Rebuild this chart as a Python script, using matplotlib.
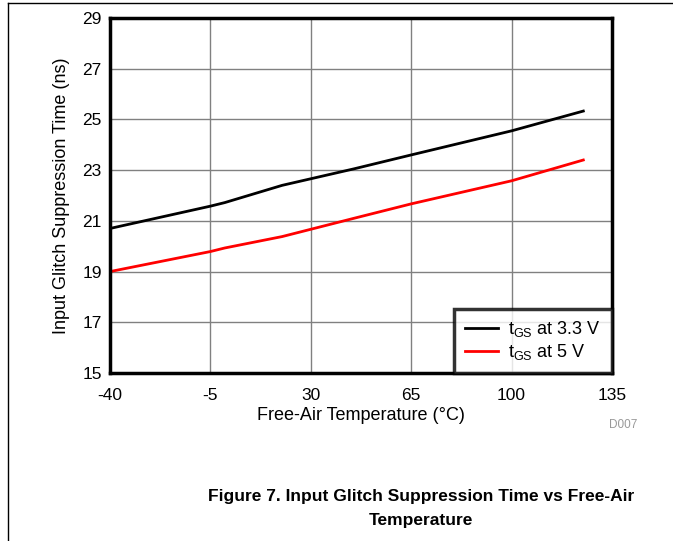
import matplotlib
matplotlib.use('Agg')
import matplotlib.pyplot as plt
from matplotlib.lines import Line2D

plt.rcParams['font.family'] = ['Liberation Sans', 'DejaVu Sans']
plt.rcParams['mathtext.fontset'] = 'custom'
plt.rcParams['mathtext.rm'] = 'Liberation Sans'
plt.rcParams['axes.unicode_minus'] = False

# データ
temps = [-40, -5, 0, 20, 45, 65, 100, 125]
tgs_33v = [20.7, 21.58, 21.72, 22.4, 23.05, 23.6, 24.55, 25.33]
tgs_5v = [19.0, 19.79, 19.93, 20.38, 21.1, 21.67, 22.58, 23.4]
x_ticks = [-40, -5, 30, 65, 100, 135]
y_ticks = [15, 17, 19, 21, 23, 25, 27, 29]

fig = plt.figure(figsize=(6.73, 5.41), dpi=100)
ax = fig.add_axes([110 / 673, 1 - 373 / 541, 502 / 673, 355 / 541])

ax.plot(temps, tgs_33v, color='black', lw=2, label=r'$\mathregular{t_{GS}}$ at 3.3 V')
ax.plot(temps, tgs_5v, color='red', lw=2, label=r'$\mathregular{t_{GS}}$ at 5 V')

ax.set_xlim(-40, 135)
ax.set_ylim(15, 29)
ax.set_xticks(x_ticks)
ax.set_yticks(y_ticks)
ax.tick_params(length=0, labelsize=12.5)
ax.tick_params(axis='x', pad=11)
ax.tick_params(axis='y', pad=6)
ax.grid(True, color='#808080', lw=1)
ax.set_axisbelow(True)
for sp in ax.spines.values():
    sp.set_linewidth(2.5)

ax.set_xlabel('Free-Air Temperature (°C)', fontsize=13, labelpad=3)
ax.set_ylabel('Input Glitch Suppression Time (ns)', fontsize=13, labelpad=9)

leg = ax.legend(loc='lower right', fontsize=13, frameon=True, fancybox=False,
                borderaxespad=0, handlelength=1.85, handletextpad=0.55,
                labelspacing=0.15, borderpad=0.6)
leg.get_frame().set_edgecolor('black')
leg.get_frame().set_linewidth(2.5)

fig.text(623 / 673, 1 - 425 / 541, 'D007', color='#999999', fontsize=8.5,
         ha='center', va='center')
fig.text(421 / 673, 1 - 497 / 541, 'Figure 7. Input Glitch Suppression Time vs Free-Air',
         fontsize=12.5, fontweight='bold', ha='center', va='center')
fig.text(421 / 673, 1 - 521 / 541, 'Temperature',
         fontsize=12.5, fontweight='bold', ha='center', va='center')

# 外枠
fig.add_artist(Line2D([8 / 673, 8 / 673], [0, 1 - 3 / 541], color='black', lw=1))
fig.add_artist(Line2D([8 / 673, 1], [1 - 3 / 541, 1 - 3 / 541], color='black', lw=1))

fig.savefig('out.png', dpi=100)
